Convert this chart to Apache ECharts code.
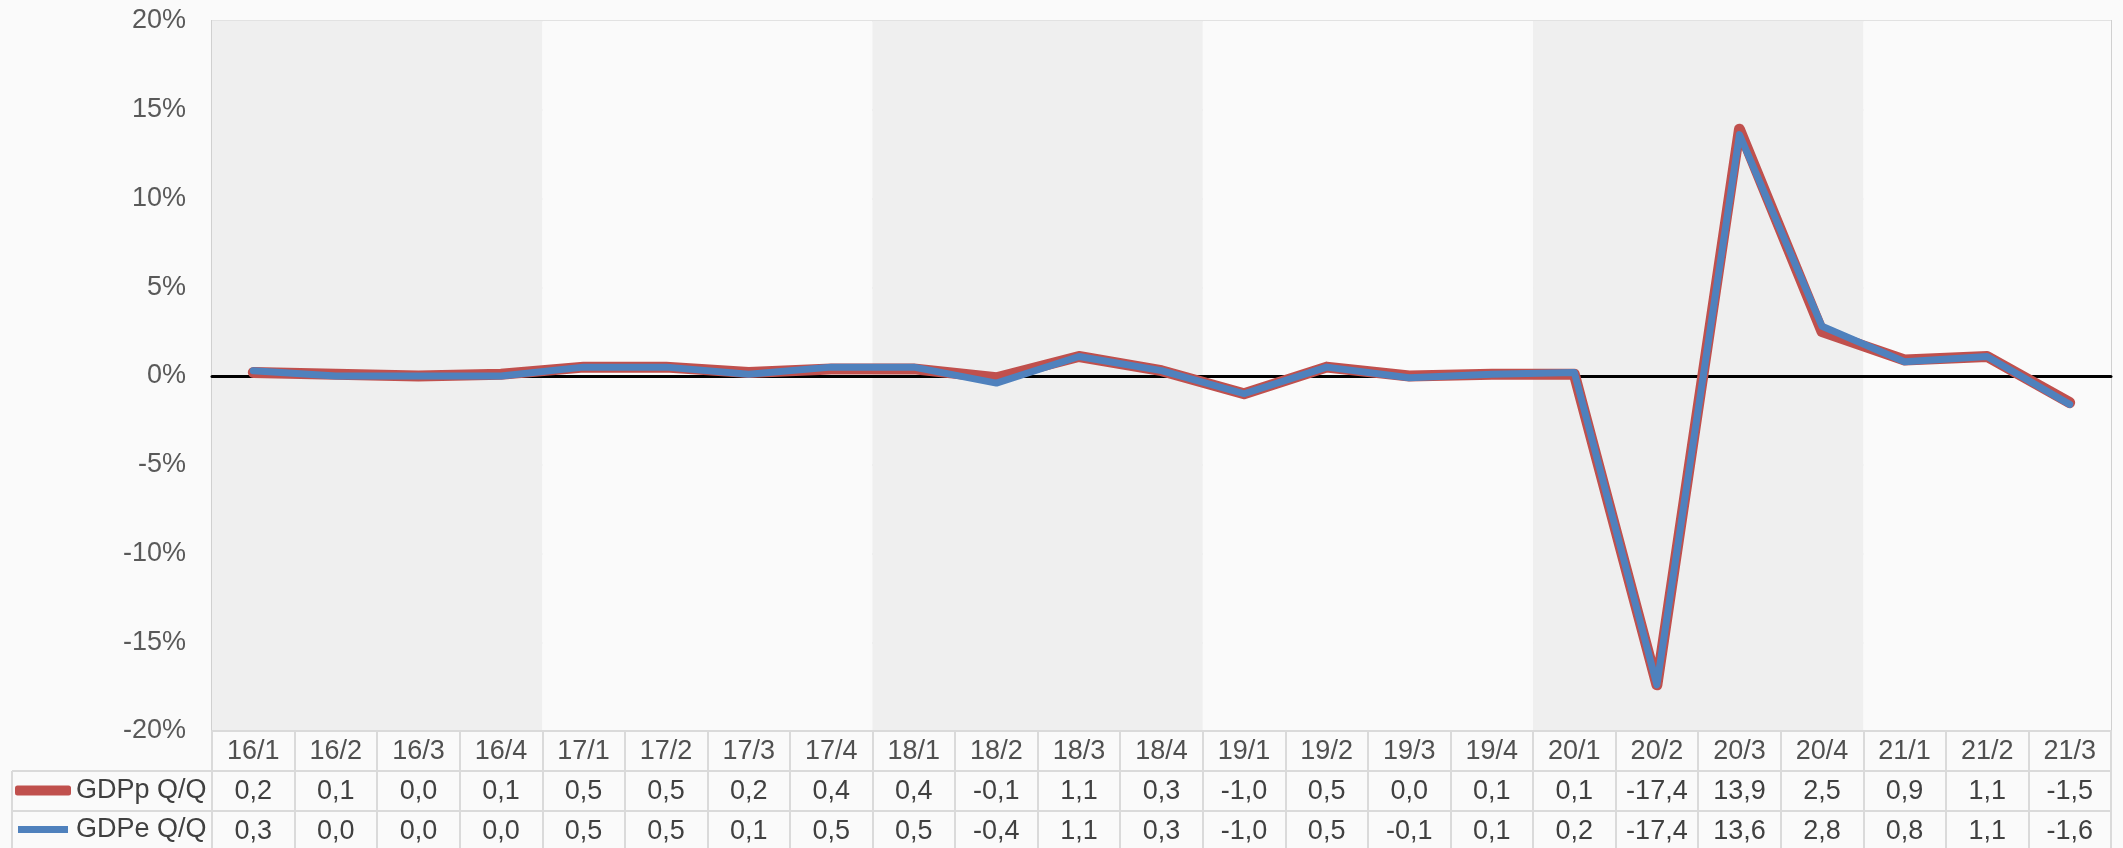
<!DOCTYPE html>
<html>
<head>
<meta charset="utf-8">
<script src="https://cdn.jsdelivr.net/npm/echarts@6/dist/echarts.min.js"></script>
<style>
html,body{margin:0;padding:0;background:#fafafa;}
#c{width:2123px;height:848px;}
</style>
</head>
<body>
<div id="c"></div>
<script>
var categories = ['16/1','16/2','16/3','16/4','17/1','17/2','17/3','17/4','18/1','18/2','18/3','18/4','19/1','19/2','19/3','19/4','20/1','20/2','20/3','20/4','21/1','21/2','21/3'];
var gdppName = 'GDPp Q/Q';
var gdpeName = 'GDPe Q/Q';
var gdpp = [0.2,0.1,0.0,0.1,0.5,0.5,0.2,0.4,0.4,-0.1,1.1,0.3,-1.0,0.5,0.0,0.1,0.1,-17.4,13.9,2.5,0.9,1.1,-1.5];
var gdpe = [0.3,0.0,0.0,0.0,0.5,0.5,0.1,0.5,0.5,-0.4,1.1,0.3,-1.0,0.5,-0.1,0.1,0.2,-17.4,13.6,2.8,0.8,1.1,-1.6];
var yTicks = {min: -20, max: 20, interval: 5};

function fmt(v){ return v.toFixed(1).replace('.', ','); }

var FONT = 'Liberation Sans, Arial, sans-serif';
var BORDER = '#dadada';
var TXT = 27;
var chart = echarts.init(document.getElementById('c'));

function tableAxis(offset, arr){
  return {
    type: 'category', data: categories, position: 'bottom', offset: offset,
    axisLine: {show: true, onZero: false, lineStyle: {color: BORDER, width: 2}},
    axisTick: {show: false},
    axisLabel: {interval: 0, margin: 7, fontSize: TXT, lineHeight: TXT, color: '#404040', fontFamily: FONT,
      formatter: function(v, i){ return fmt(arr[i]); }},
    splitLine: {show: false}
  };
}

chart.setOption({
  backgroundColor: '#fafafa',
  animation: false,
  grid: {left: 212, right: 12, top: 21, bottom: 117, show: true, borderColor: '#d0d0d0', borderWidth: 2, backgroundColor: 'transparent'},
  legend: {
    orient: 'vertical', left: 15, top: 777, itemGap: 12, padding: 0,
    itemWidth: 56, itemHeight: 10,
    textStyle: {fontSize: TXT, lineHeight: TXT, color: '#404040', fontFamily: FONT},
    data: [
      {name: gdppName, icon: 'roundRect'},
      {name: gdpeName, icon: 'path://M0,0L0.1,0M56,10L55.9,10M3,1.5L53,1.5L53,8.5L3,8.5Z'}
    ]
  },
  xAxis: [
    {
      type: 'category', data: categories, position: 'bottom', boundaryGap: true,
      axisLine: {show: true, onZero: false, lineStyle: {color: BORDER, width: 2}},
      axisTick: {show: true, interval: 0, length: 120, lineStyle: {color: BORDER, width: 2}},
      axisLabel: {interval: function(){ return true; }, margin: 7, fontSize: TXT, lineHeight: TXT, color: '#505050', fontFamily: FONT},
      splitArea: {show: true, interval: 3, areaStyle: {color: ['#efefef', '#fafafa']}},
      splitLine: {show: false}
    },
    tableAxis(40, gdpp),
    tableAxis(80, gdpe),
    {
      type: 'category', data: categories, position: 'bottom', z: 1,
      axisLine: {show: true, onZero: true, lineStyle: {color: '#000', width: 3}},
      axisTick: {show: false}, axisLabel: {show: false}, splitLine: {show: false}
    }
  ],
  yAxis: {
    type: 'value', min: yTicks.min, max: yTicks.max, interval: yTicks.interval,
    axisLine: {show: false}, axisTick: {show: false},
    axisLabel: {formatter: '{value}%', fontSize: TXT, color: '#595959', margin: 26, fontFamily: FONT},
    splitLine: {show: true, lineStyle: {color: '#e2e2e2', width: 2}}
  },
  series: [
    {
      name: gdppName, type: 'line', data: gdpp, showSymbol: false, symbol: 'none',
      color: '#c0504d',
      lineStyle: {color: '#c0504d', width: 11, cap: 'round', join: 'round'}
    },
    {
      name: gdpeName, type: 'line', data: gdpe, showSymbol: false, symbol: 'none',
      color: '#4f81bd',
      lineStyle: {color: '#4f81bd', width: 7, cap: 'round', join: 'round'}
    }
  ],
  graphic: [
    {type: 'line', shape: {x1: 12, y1: 771, x2: 212, y2: 771}, style: {stroke: BORDER, lineWidth: 2}, silent: true},
    {type: 'line', shape: {x1: 12, y1: 811, x2: 212, y2: 811}, style: {stroke: BORDER, lineWidth: 2}, silent: true},
    {type: 'line', shape: {x1: 12, y1: 771, x2: 12, y2: 848}, style: {stroke: BORDER, lineWidth: 2}, silent: true}
  ]
});
</script>
</body>
</html>
